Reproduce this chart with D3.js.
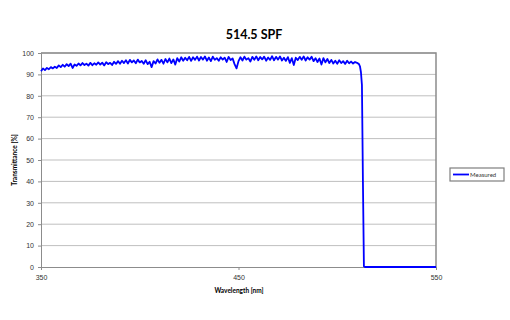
<!DOCTYPE html>
<html lang="en">
<head>
<meta charset="UTF-8">
<title>514.5 SPF</title>
<script src="https://cdn.jsdelivr.net/npm/d3@7"></script>
<style>
  body { margin: 0; background: #fff; }
  svg { font-family: Lato, "Open Sans", sans-serif; }
</style>
</head>
<body>
<svg></svg>
<script>
// measured transmittance, 1 nm steps from 350 to 510 nm
var transmittance = [
  91.5, 92.8, 92.0, 93.0, 92.4, 93.4, 92.8, 93.6, 93.0, 94.2,
  93.4, 94.5, 93.6, 94.8, 93.9, 95.0, 93.0, 94.6, 94.0, 95.1,
  94.2, 95.3, 94.4, 95.0, 94.1, 95.4, 94.3, 95.2, 94.5, 95.6,
  94.6, 95.5, 94.2, 95.7, 94.8, 95.4, 94.4, 95.9, 94.9, 96.2,
  95.0, 96.4, 95.3, 96.6, 95.1, 96.8, 95.6, 96.5, 95.2, 96.9,
  95.6, 96.3, 95.0, 96.6, 94.8, 95.9, 93.4, 96.2, 95.1, 97.0,
  95.4, 96.8, 95.0, 97.2, 95.6, 97.4, 95.3, 97.0, 94.6, 97.6,
  96.0, 98.0, 96.4, 97.8, 96.6, 98.2, 96.3, 98.0, 96.8, 98.3,
  96.5, 98.1, 96.9, 98.4, 96.4, 97.9, 96.2, 98.3, 96.8, 97.6,
  96.4, 98.0, 96.9, 97.8, 95.8, 98.2, 96.7, 97.5, 94.8, 92.8,
  96.2, 98.0, 96.5, 98.3, 96.9, 97.6, 96.0, 98.2, 96.8, 98.4,
  96.6, 98.1, 97.0, 98.3, 96.4, 97.9, 96.8, 98.5, 96.6, 98.2,
  96.9, 98.4, 96.5, 97.8, 96.3, 98.1, 95.4, 97.6, 94.4, 97.8,
  96.7, 98.2, 96.8, 98.4, 96.5, 98.0, 96.9, 98.3, 96.2, 97.6,
  95.8, 97.4, 94.6, 97.6, 95.6, 97.2, 95.3, 96.8, 95.1, 96.4,
  95.0, 96.6, 95.3, 96.2, 94.9, 96.4, 95.2, 96.0, 95.1, 95.8,
  95.4
];
// the cut-off edge and the blocked band
var edgeWavelength = [511, 511.5, 512, 512.5, 513, 513.5, 514, 550];
var edgeTransmittance = [94.8, 93.8, 91.0, 85.0, 40.0, 0.3, 0, 0];

var xTicks = [350, 450, 550];
var yTicks = [0, 10, 20, 30, 40, 50, 60, 70, 80, 90, 100];

var data = transmittance.map(function (t, i) {
  return {wl: 350 + i, t: t};
});
edgeWavelength.forEach(function (w, i) {
  data.push({wl: w, t: edgeTransmittance[i]});
});

var svg = d3.select('svg')
  .attr('width', 510)
  .attr('height', 320);

var plotLeft = 41, plotRight = 436, plotTop = 53, plotBottom = 267;

var x = d3.scaleLinear().domain([350, 550]).range([plotLeft, plotRight]);
var y = d3.scaleLinear().domain([0, 100]).range([plotBottom, plotTop]);

// title
svg.append('text')
  .attr('x', 254)
  .attr('y', 39)
  .attr('text-anchor', 'middle')
  .style('font-size', '12.5px')
  .style('font-weight', 'bold')
  .text('514.5 SPF');

// gridlines
svg.append('g')
  .selectAll('line')
  .data(yTicks.slice(1))
  .enter()
  .append('line')
  .attr('x1', plotLeft)
  .attr('x2', plotRight)
  .attr('y1', function (d) { return y(d); })
  .attr('y2', function (d) { return y(d); })
  .attr('stroke', '#bfbfbf')
  .attr('stroke-width', 1);

// plot frame top and right
svg.append('path')
  .attr('d', 'M' + plotLeft + ',' + plotTop + 'H' + plotRight + 'V' + plotBottom)
  .attr('fill', 'none')
  .attr('stroke', '#8c8c8c')
  .attr('stroke-width', 1.5);

var yAxis = svg.append('g')
  .attr('transform', 'translate(' + plotLeft + ',0)')
  .call(d3.axisLeft(y).tickValues(yTicks).tickSize(3).tickPadding(4));

var xAxis = svg.append('g')
  .attr('transform', 'translate(0,' + plotBottom + ')')
  .call(d3.axisBottom(x).tickValues(xTicks).tickSize(3).tickPadding(5));

[yAxis, xAxis].forEach(function (g) {
  g.select('.domain').attr('stroke', '#8c8c8c');
  g.selectAll('.tick line').attr('stroke', '#8c8c8c');
  g.selectAll('.tick text')
    .attr('fill', '#333')
    .style('font-size', '7px');
});

// axis titles
svg.append('text')
  .attr('x', 239)
  .attr('y', 293)
  .attr('text-anchor', 'middle')
  .style('font-size', '6.5px')
  .style('font-weight', 'bold')
  .text('Wavelength [nm]');

svg.append('text')
  .attr('transform', 'translate(17,160) rotate(-90)')
  .attr('text-anchor', 'middle')
  .style('font-size', '6.5px')
  .style('font-weight', 'bold')
  .text('Transmittance [%]');

// curve
var line = d3.line()
  .x(function (d) { return x(d.wl); })
  .y(function (d) { return y(d.t); });

svg.append('path')
  .datum(data)
  .attr('fill', 'none')
  .attr('stroke', '#0000ff')
  .attr('stroke-width', 1.8)
  .attr('stroke-linejoin', 'round')
  .attr('d', line);

// legend
var legend = svg.append('g').attr('transform', 'translate(450,168)');
legend.append('rect')
  .attr('width', 54)
  .attr('height', 13)
  .attr('fill', '#fff')
  .attr('stroke', '#7f7f7f')
  .attr('stroke-width', 1.2);
legend.append('line')
  .attr('x1', 3)
  .attr('x2', 19)
  .attr('y1', 6.5)
  .attr('y2', 6.5)
  .attr('stroke', '#0000ff')
  .attr('stroke-width', 1.8);
legend.append('text')
  .attr('x', 20)
  .attr('y', 9)
  .style('font-size', '6px')
  .attr('fill', '#333')
  .text('Measured');
</script>
</body>
</html>
